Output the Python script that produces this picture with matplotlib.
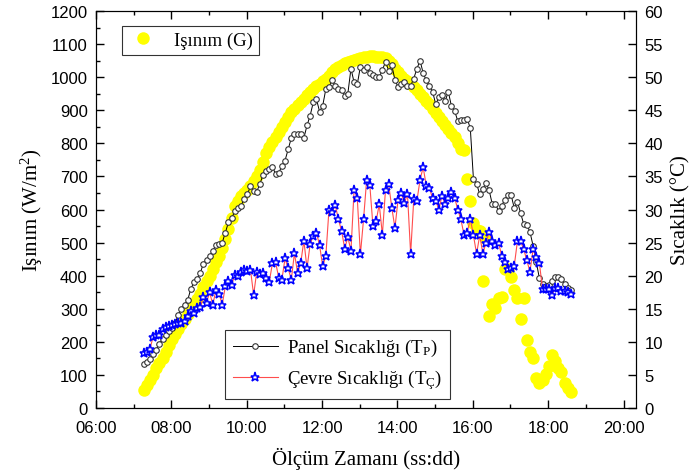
import numpy as np
import matplotlib.pyplot as plt
from matplotlib.ticker import MultipleLocator, FuncFormatter

plt.rcParams['font.family'] = ['Liberation Sans', 'DejaVu Sans']
plt.rcParams['mathtext.fontset'] = 'custom'
plt.rcParams['mathtext.rm'] = 'Liberation Serif'
plt.rcParams['mathtext.it'] = 'Liberation Serif:italic'

# measurements every 5 minutes starting at 07:16
start_hour = 7 + 16 / 60
step_hour = 5 / 60

# irradiance G (W/m2)
irradiance = [
    55, 70, 85, 100, 120, 135, 150, 170, 190, 210, 225,
    240, 255, 270, 285, 300, 315, 330, 345, 365, 385, 400, 420,
    440, 460, 485, 510, 540, 575, 610, 625, 640, 650, 660, 670,
    685, 700, 720, 745, 770, 790, 805, 820, 835, 850, 865, 880,
    895, 905, 915, 925, 935, 945, 955, 965, 972, 980, 988, 995,
    1005, 1015, 1025, 1032, 1038, 1042, 1046, 1049, 1052, 1055, 1058, 1060,
    1062, 1063, 1063, 1062, 1062, 1060, 1058, 1050, 1040, 1025, 1015, 1005,
    995, 988, 980, 970, 960, 950, 940, 928, 918, 905, 893, 880,
    868, 855, 843, 832,
    819, 800, 783, 780, 692, 625, 560, 538, 536, 385, 511, 279, 314, 301,
    333, 335, 420, 420, 395, 358, 332, 269, 332, 206, 169, 150, 90, 77,
    85, 103, 128, 160, 143, 120, 110, 76, 60, 49,
]

# panel temperature T_P (C)
panel = [
    6.65, 7.0, 7.4, 8.1, 8.8, 9.7, 10.5, 11.1, 11.7, 12.1, 12.8,
    14.1, 15.0, 15.6, 16.3, 18.0, 19.0, 19.5, 20.4, 21.8, 22.4, 23.0, 23.8,
    24.6, 24.8, 25.0, 26.5, 28.1, 28.7, 29.7, 30.2, 30.6, 31.6, 32.3, 33.5,
    32.8, 32.7, 33.9, 35.2, 35.8, 36.1, 36.4, 35.4, 35.5, 36.6, 37.4, 39.1,
    40.8, 41.4, 41.4, 41.4, 40.8, 42.7, 44.2, 46.2, 46.7, 44.8, 45.7, 48.2,
    48.5, 49.5, 48.7, 48.2, 48.1, 47.2, 47.5, 51.3, 49.2, 48.9, 51.6, 51.1,
    51.5, 50.7, 50.3, 50.0, 50.0, 51.1, 52.3, 51.0, 51.8, 49.6, 48.5, 48.9,
    49.2, 48.7, 48.7, 49.8, 51.3, 52.5, 50.6, 49.5, 48.6, 47.8, 45.9, 47.0,
    47.3, 46.4, 47.8, 45.6, 44.9, 43.4, 43.6, 43.6, 43.7, 42.3,
    34.6, 33.9, 32.3, 33.1, 34.0, 32.9, 30.8, 30.8, 29.8, 30.6, 31.5, 32.2,
    32.2, 30.2, 31.2, 29.5, 27.8, 27.7, 26.6, 24.5, 22.1, 19.6, 18.7, 18.5,
    18.6, 19.2, 19.8, 19.8, 19.5, 18.7, 18.2, 17.9,
]

# ambient temperature T_C (C)
ambient = [
    8.3, 8.5, 8.9, 10.8, 11.0, 11.0, 11.9, 12.2, 12.4, 12.5, 12.7, 12.8,
    12.9, 13.2, 13.9, 14.6, 14.4, 15.1, 15.2, 16.8, 15.9, 17.5, 15.6, 17.8,
    17.3, 15.6, 18.4, 19.2, 18.6, 20.1, 20.0, 20.6, 20.9, 20.7, 20.9, 17.1,
    20.6, 20.3, 20.4, 19.7, 19.1, 21.9, 22.0, 19.7, 19.4, 22.6, 21.1, 19.4,
    23.4, 20.4, 21.9, 25.3, 21.1, 24.8, 26.0, 26.5, 24.6, 21.4, 23.0, 30.0,
    29.6, 30.7, 28.5, 26.8, 24.1, 25.8, 23.8, 33.0, 31.8, 23.2, 28.5, 34.5,
    33.7, 27.5, 28.2, 30.8, 26.2, 33.0, 33.8, 30.3, 27.2, 31.5, 32.5, 31.0,
    32.3, 23.3, 31.6, 31.3, 34.5, 36.4, 33.5, 33.2, 31.7, 31.3, 30.0, 32.1,
    30.8, 31.7, 32.7, 31.8, 30.0, 28.5, 26.2, 26.5, 28.6, 26.1, 23.3, 26.1,
    23.3, 25.0, 26.6, 25.3, 24.7, 25.0, 23.0, 22.0, 21.0, 21.2, 21.5, 25.2,
    25.2, 24.0, 22.3, 20.6, 24.0, 22.8, 21.9, 18.0, 18.0, 18.0, 17.1, 18.1,
    18.1, 17.7, 17.7, 17.5, 17.2,
]

t = start_hour + step_hour * np.arange(len(irradiance))

serif = 'Liberation Serif'

fig = plt.figure(figsize=(6.94, 4.77), dpi=100)
ax = fig.add_axes([0.1383, 0.1426, 0.7781, 0.8322])

ax.plot(t, irradiance, 'o', color='#ffff00', ms=9, mec='none',
        label='Işınım (G)')

ax2 = ax.twinx()
ax2.plot(t, panel, '-o', color='black', lw=0.7, ms=4, mfc='white',
         mec='#333333', mew=0.8, label='Panel Sıcaklığı (T$_{\\mathrm{P}}$)')
ax2.plot(t, ambient, '-*', color='#ff4d4d', lw=0.8, ms=6.5, mfc='white',
         mec='#0000ff', mew=1.1, label='Çevre Sıcaklığı (T$_{\\mathrm{Ç}}$)')

ax.set_xlim(6, 20.33)
ax.set_ylim(0, 1200)
ax2.set_ylim(0, 60)

ax.xaxis.set_major_locator(MultipleLocator(2))
ax.xaxis.set_minor_locator(MultipleLocator(1))
ax.xaxis.set_major_formatter(FuncFormatter(lambda v, p: f'{int(round(v)):02d}:00'))
ax.yaxis.set_major_locator(MultipleLocator(100))
ax.yaxis.set_minor_locator(MultipleLocator(50))
ax2.yaxis.set_major_locator(MultipleLocator(5))

ax.tick_params(which='both', direction='in', top=True, labelsize=12)
ax.tick_params(which='major', length=6, width=1)
ax.tick_params(which='minor', length=3, width=1)
ax.tick_params(axis='x', which='major', pad=9)
ax.tick_params(axis='y', which='major', pad=6)
ax2.tick_params(which='major', direction='in', length=6, width=1,
                labelsize=12, pad=6)

ax.set_xlabel('Ölçüm Zamanı (ss:dd)', family=serif, fontsize=15, labelpad=8)
ax.set_ylabel('Işınım (W/m$^2$)', family=serif, fontsize=15, labelpad=4)
ax2.set_ylabel('Sıcaklık (°C)', family=serif, fontsize=15, labelpad=6)

leg1 = ax.legend(loc='upper left', bbox_to_anchor=(0.048, 0.962),
                 borderaxespad=0, fancybox=False, edgecolor='black',
                 prop={'family': serif, 'size': 13.5},
                 handlelength=1.6, handletextpad=0.9, borderpad=0.3)
leg1.get_frame().set_linewidth(0.8)

leg2 = ax2.legend(loc='lower left', bbox_to_anchor=(0.239, 0.0227),
                  borderaxespad=0, fancybox=False, edgecolor='black',
                  prop={'family': serif, 'size': 13.5},
                  handlelength=2.4, handletextpad=0.5, borderpad=0.4)
leg2.get_frame().set_linewidth(0.8)

fig.savefig('out.png', dpi=100)
